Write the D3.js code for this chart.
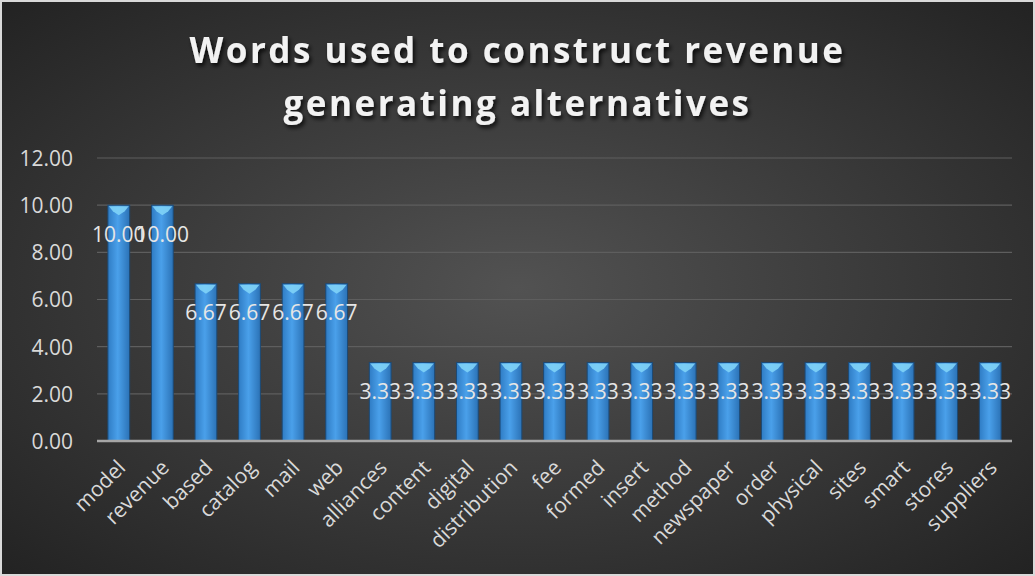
<!DOCTYPE html>
<html><head><meta charset="utf-8">
<script src="https://cdn.jsdelivr.net/npm/d3@7"></script>
<style>body{margin:0;background:#fff}svg{display:block}</style>
</head><body><svg id="c" width="1035" height="576"></svg>
<script>
const categories = ["model","revenue","based","catalog","mail","web","alliances","content","digital","distribution","fee","formed","insert","method","newspaper","order","physical","sites","smart","stores","suppliers"];
const values = [10,10,6.67,6.67,6.67,6.67,3.33,3.33,3.33,3.33,3.33,3.33,3.33,3.33,3.33,3.33,3.33,3.33,3.33,3.33,3.33];
const yTicks = [0,2,4,6,8,10,12];
const titleLines = ["Words used to construct revenue","generating alternatives"];

const svg = d3.select("#c");
const W=1035,H=576;
const FONT="'Open Sans',sans-serif";
const defs = svg.append("defs");
const bg = defs.append("radialGradient").attr("id","bg").attr("cx","50%").attr("cy","50%").attr("r","70%");
bg.append("stop").attr("offset","0%").attr("stop-color","#525252");
bg.append("stop").attr("offset","100%").attr("stop-color","#232323");
const bar = defs.append("linearGradient").attr("id","bar").attr("x1","0").attr("x2","1").attr("y1","0").attr("y2","0");
bar.append("stop").attr("offset","0%").attr("stop-color","#2f7cc4");
bar.append("stop").attr("offset","45%").attr("stop-color","#4aa0ea");
bar.append("stop").attr("offset","100%").attr("stop-color","#2b72b6");
const f = defs.append("filter").attr("id","sh").attr("x","-10%").attr("y","-30%").attr("width","130%").attr("height","180%");
f.append("feDropShadow").attr("dx",2).attr("dy",3).attr("stdDeviation",2).attr("flood-color","#000").attr("flood-opacity",0.8);

svg.append("rect").attr("x",1).attr("y",1).attr("width",W-2).attr("height",H-2).attr("fill","url(#bg)").attr("stroke","#d9d9d9").attr("stroke-width",2);

const m={l:97,r:1012,t:158,b:441};
const x = d3.scaleBand().domain(categories).range([m.l,m.r]).paddingInner(0.5).paddingOuter(0.25);
const y = d3.scaleLinear().domain([0,12]).range([m.b,m.t]);

// gridlines
svg.append("g").selectAll("line").data(yTicks.filter(d=>d>0)).join("line")
  .attr("x1",m.l).attr("x2",m.r).attr("y1",d=>y(d)).attr("y2",d=>y(d))
  .attr("stroke","#5e5e5e").attr("stroke-width",1.2);

// y axis labels
const yAxis = d3.axisLeft(y).tickValues(yTicks).tickFormat(d3.format(".2f")).tickSize(0).tickPadding(0);
const ya = svg.append("g").attr("transform",`translate(${m.l-24},0)`).call(yAxis);
ya.select(".domain").remove();
ya.selectAll("text").attr("fill","#d9d9d9").style("font-family",FONT).style("font-size","21px").attr("dy","0.35em");

// bars
const g = svg.append("g").selectAll("g").data(categories).join("g");
g.append("rect").attr("x",d=>x(d)).attr("width",x.bandwidth()).attr("y",(d,i)=>y(values[i])).attr("height",(d,i)=>y(0)-y(values[i]))
  .attr("fill","url(#bar)").attr("stroke","#1d4a75").attr("stroke-width",1);
g.append("path").attr("d",(d,i)=>{const x0=x(d)+1,x1=x(d)+x.bandwidth()-1,yt=y(values[i])+1;return `M${x0},${yt}L${x1},${yt}L${x1-4},${yt+5}L${(x0+x1)/2},${yt+9}L${x0+4},${yt+5}Z`;})
  .attr("fill","#7fd3f7").attr("opacity",0.9);

// axis line
svg.append("line").attr("x1",m.l).attr("x2",m.r).attr("y1",y(0)).attr("y2",y(0)).attr("stroke","#a6a6a6").attr("stroke-width",2.5);

// data labels
svg.append("g").selectAll("text").data(categories).join("text")
  .attr("x",d=>x(d)+x.bandwidth()/2).attr("y",(d,i)=>y(values[i])+29).attr("dy","0.35em")
  .attr("text-anchor","middle").attr("fill","#e6e6e6").style("font-family",FONT).style("font-size","21px")
  .text((d,i)=>d3.format(".2f")(values[i]));

// x labels
const xa = svg.append("g").attr("transform",`translate(0,${y(0)})`).call(d3.axisBottom(x).tickSize(0).tickPadding(0));
xa.select(".domain").remove();
xa.selectAll("text").attr("fill","#d9d9d9").style("font-family",FONT).style("font-size","21px")
  .attr("text-anchor","end").attr("dy",0).attr("y",0)
  .attr("transform","translate(8,28) rotate(-45)");

// title
svg.append("g").selectAll("text").data(titleLines).join("text")
  .attr("x",W/2).attr("y",(d,i)=>63+i*53).attr("text-anchor","middle")
  .attr("fill","#f2f2f2").style("font-family",FONT).style("font-weight","bold").style("font-size","35px").style("letter-spacing","2.5px")
  .attr("filter","url(#sh)").text(d=>d);
</script></body></html>
